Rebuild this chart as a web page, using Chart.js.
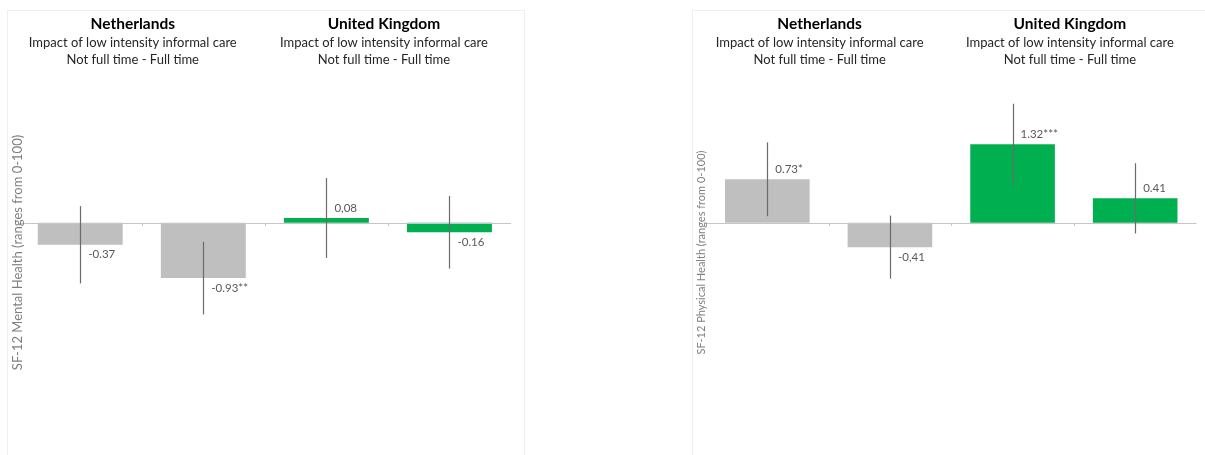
<!DOCTYPE html>
<html>
<head>
<meta charset="utf-8">
<title>SF-12 impact of informal care</title>
<script src="https://cdn.jsdelivr.net/npm/chart.js@4.4.0/dist/chart.umd.min.js"></script>
<style>
  body { margin: 0; background: #fff; overflow: hidden; width: 1205px; height: 455px; }
  .panel { position: absolute; top: 10px; height: 444px; border: 1px solid #efefef; border-bottom: none; background: #fff; }
  #panelMental { left: 7px; width: 516px; }
  #panelPhysical { left: 692px; width: 520px; }
</style>
</head>
<body>
<div class="panel" id="panelMental"><canvas id="mentalHealth"></canvas></div>
<div class="panel" id="panelPhysical"><canvas id="physicalHealth"></canvas></div>

<script>
const countries = ['Netherlands', 'United Kingdom'];
const subtitleLines = ['Impact of low intensity informal care', 'Not full time - Full time'];
const categories = ['NL-1', 'NL-2', 'UK-1', 'UK-2'];
const barColors = ['#bfbfbf', '#bfbfbf', '#00b050', '#00b050'];

const mentalValues = [-0.37, -0.93, 0.08, -0.16];
const mentalErrors = [0.65, 0.61, 0.67, 0.61];
const mentalLabels = ['-0.37', '-0.93**', '0,08', '-0.16'];

const physicalValues = [0.73, -0.41, 1.32, 0.41];
const physicalErrors = [0.62, 0.53, 0.68, 0.59];
const physicalLabels = ['0.73*', '-0,41', '1.32***', '0.41'];

const FONT = 'Lato, "Open Sans", sans-serif';

// zero line, error bars, value labels, headers and the rotated axis title
const decorPlugin = {
    id: 'decor',
    afterDatasetsDraw(chart, args, opts) {
        const ctx = chart.ctx;
        const area = chart.chartArea;
        const x = chart.scales.x;
        const y = chart.scales.y;
        const meta = chart.getDatasetMeta(0);
        const y0 = y.getPixelForValue(0);

        ctx.save();
        // zero axis line with small category ticks
        ctx.strokeStyle = '#c6c6c6';
        ctx.lineWidth = 1;
        ctx.beginPath();
        ctx.moveTo(area.left, Math.round(y0) + 0.5);
        ctx.lineTo(area.right, Math.round(y0) + 0.5);
        const step = (area.right - area.left) / categories.length;
        for (let i = 1; i < categories.length; i++) {
            const tx = Math.round(area.left + step * i) + 0.5;
            ctx.moveTo(tx, Math.round(y0));
            ctx.lineTo(tx, Math.round(y0) + 3);
        }
        ctx.stroke();

        // error bars
        ctx.strokeStyle = '#6b6b6b';
        ctx.lineWidth = 1.2;
        meta.data.forEach((bar, i) => {
            const v = opts.values[i];
            const e = opts.errors[i];
            ctx.beginPath();
            ctx.moveTo(Math.round(bar.x) + 0.5, y.getPixelForValue(v + e));
            ctx.lineTo(Math.round(bar.x) + 0.5, y.getPixelForValue(v - e));
            ctx.stroke();
        });

        // value labels, right of the error bar
        ctx.fillStyle = '#595959';
        ctx.font = '11.5px ' + FONT;
        ctx.textAlign = 'left';
        ctx.textBaseline = 'middle';
        meta.data.forEach((bar, i) => {
            const v = opts.values[i];
            const ly = v >= 0 ? bar.y - 10 : bar.y + 10;
            ctx.fillText(opts.labels[i], bar.x + 8, ly);
        });

        // country headers
        ctx.textAlign = 'center';
        countries.forEach((name, k) => {
            const cx = (x.getPixelForValue(2 * k) + x.getPixelForValue(2 * k + 1)) / 2 + opts.headerShift[k];
            ctx.fillStyle = '#000';
            ctx.font = 'bold 15.5px ' + FONT;
            ctx.fillText(name, cx, 13);
            ctx.fillStyle = '#262626';
            ctx.font = '13px ' + FONT;
            ctx.fillText(subtitleLines[0], cx, 32);
            ctx.fillText(subtitleLines[1], cx, 49);
        });

        // y axis title
        ctx.translate(opts.titleX, (area.top + area.bottom) / 2);
        ctx.rotate(-Math.PI / 2);
        ctx.fillStyle = '#7f7f7f';
        ctx.font = opts.titleSize + 'px ' + FONT;
        ctx.fillText(opts.title, 0, 0);
        ctx.restore();
    }
};

function displayHealthChart(canvasId, values, errors, labels, title, titleX, titleSize, padLeft, padRight) {
    const ctx = document.getElementById(canvasId).getContext('2d');

    const data = {
        labels: categories,
        datasets: [{
            label: title,
            data: values,
            backgroundColor: barColors,
            borderWidth: 0,
            barPercentage: 0.69,
            categoryPercentage: 1
        }]
    };

    return new Chart(ctx, {
        type: 'bar',
        data: data,
        plugins: [decorPlugin],
        options: {
            responsive: true,
            maintainAspectRatio: false,
            animation: false,
            layout: {
                padding: { left: padLeft, right: padRight, top: 122.5, bottom: 83.5 }
            },
            scales: {
                x: { display: false },
                y: { display: false, min: -2.5, max: 1.5 }
            },
            plugins: {
                legend: { display: false },
                tooltip: { enabled: false },
                decor: {
                    values: values,
                    errors: errors,
                    labels: labels,
                    title: title,
                    titleX: titleX,
                    titleSize: titleSize,
                    headerShift: [-9, -4]
                }
            }
        }
    });
}

displayHealthChart('mentalHealth', mentalValues, mentalErrors, mentalLabels,
    'SF-12 Mental Health (ranges from 0-100)', 10, 13, 10.7, 13);
displayHealthChart('physicalHealth', physicalValues, physicalErrors, physicalLabels,
    'SF-12 Physical Health (ranges from 0-100)', 8, 11, 13, 16.5);
</script>
</body>
</html>
